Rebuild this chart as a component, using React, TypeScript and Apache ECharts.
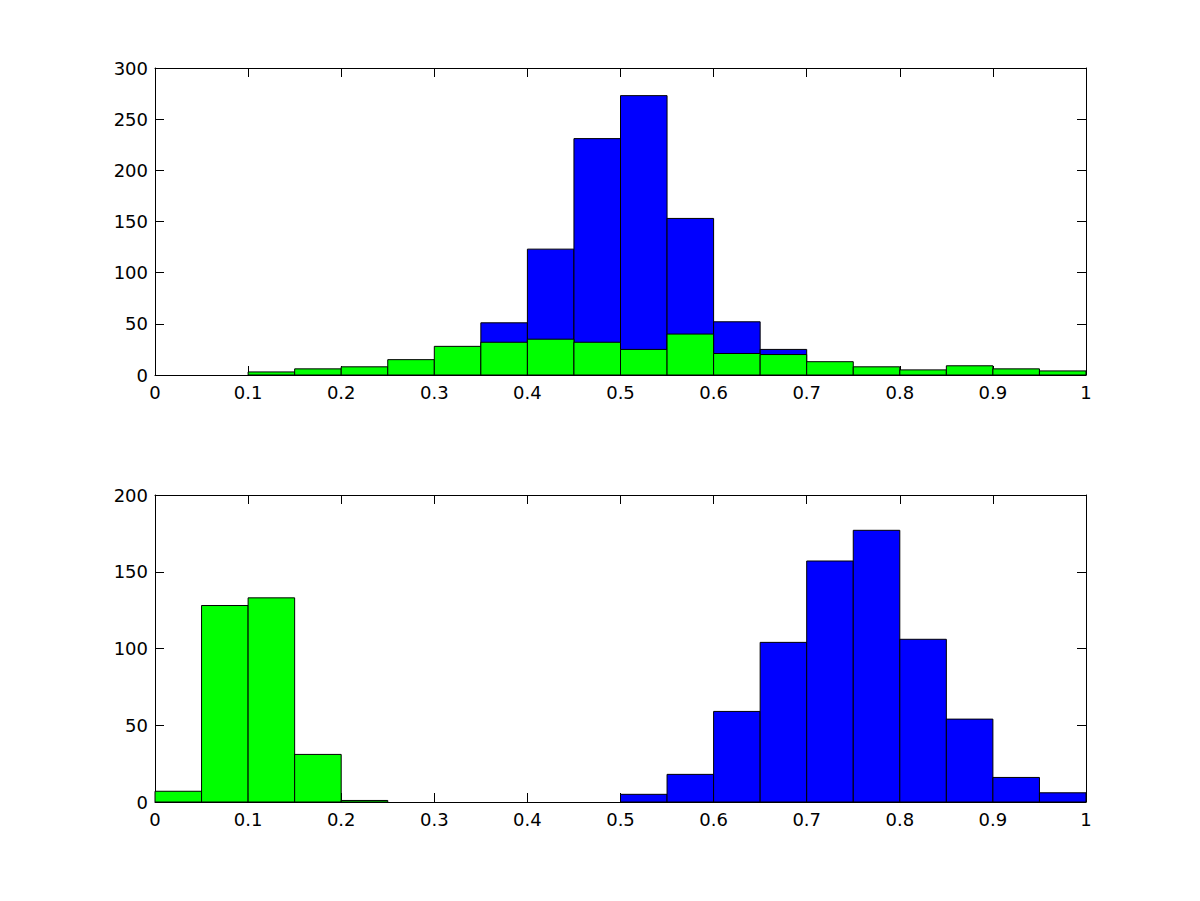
import React, { useEffect, useRef } from "react";
import * as echarts from "echarts";

const binStarts = [0, 0.05, 0.1, 0.15, 0.2, 0.25, 0.3, 0.35, 0.4, 0.45, 0.5, 0.55, 0.6, 0.65, 0.7, 0.75, 0.8, 0.85, 0.9, 0.95];
const binWidth = 0.05;

const topBlue = [0, 0, 0, 0, 0, 0, 0, 51, 123, 231, 273, 153, 52, 25, 0, 0, 0, 0, 0, 0];
const topGreen = [0, 0, 3, 6, 8, 15, 28, 32, 35, 32, 25, 40, 21, 20, 13, 8, 5, 9, 6, 4];

const bottomGreen = [7, 128, 133, 31, 1, 0, 0, 0, 0, 0, 0, 0, 0, 0, 0, 0, 0, 0, 0, 0];
const bottomBlue = [0, 0, 0, 0, 0, 0, 0, 0, 0, 0, 5, 18, 59, 104, 157, 177, 106, 54, 16, 6];

const FONT = "DejaVu Sans, Liberation Sans, Arial, sans-serif";

function histSeries(values: number[], color: string, xi: number, yi: number, z: number) {
  return {
    type: "custom",
    xAxisIndex: xi,
    yAxisIndex: yi,
    z,
    encode: { x: [0, 1], y: 2 },
    data: binStarts.map((s, i) => [s, s + binWidth, values[i]]),
    renderItem: (params: any, api: any) => {
      const s = api.value(0);
      const e = api.value(1);
      const v = api.value(2);
      if (!(v > 0)) return null;
      const p0 = api.coord([s, v]);
      const p1 = api.coord([e, 0]);
      return {
        type: "rect",
        shape: { x: p0[0], y: p0[1], width: p1[0] - p0[0], height: p1[1] - p0[1] },
        style: { fill: color, stroke: "#000", lineWidth: 1 },
      };
    },
  };
}

function xAxes(gridIndex: number) {
  const base = {
    type: "value",
    gridIndex,
    min: 0,
    max: 1,
    interval: 0.1,
    splitLine: { show: false },
    axisLine: { show: true, onZero: false, lineStyle: { color: "#000", width: 1 } },
    axisTick: { show: true, inside: true, length: 9, lineStyle: { color: "#000" } },
  };
  return [
    {
      ...base,
      position: "bottom",
      axisLabel: { show: true, color: "#000", fontSize: 18, fontFamily: FONT, margin: 8 },
    },
    { ...base, position: "top", axisLabel: { show: false } },
  ];
}

function yAxes(gridIndex: number, max: number) {
  const base = {
    type: "value",
    gridIndex,
    min: 0,
    max,
    interval: 50,
    splitLine: { show: false },
    axisLine: { show: true, onZero: false, lineStyle: { color: "#000", width: 1 } },
    axisTick: { show: true, inside: true, length: 9, lineStyle: { color: "#000" } },
  };
  return [
    {
      ...base,
      position: "left",
      axisLabel: { show: true, color: "#000", fontSize: 18, fontFamily: FONT, margin: 7 },
    },
    { ...base, position: "right", axisLabel: { show: false } },
  ];
}

export default function App() {
  const ref = useRef<HTMLDivElement>(null);
  useEffect(() => {
    if (!ref.current) return;
    const chart = echarts.init(ref.current, null, { renderer: "svg" });
    chart.setOption({
      animation: false,
      backgroundColor: "#fff",
      grid: [
        { left: 155, width: 931, top: 68, height: 307 },
        { left: 155, width: 931, top: 495, height: 307 },
      ],
      xAxis: [...xAxes(0), ...xAxes(1)],
      yAxis: [...yAxes(0, 300), ...yAxes(1, 200)],
      series: [
        histSeries(topBlue, "#0000ff", 0, 0, 2),
        histSeries(topGreen, "#00ff00", 0, 0, 3),
        histSeries(bottomGreen, "#00ff00", 2, 2, 2),
        histSeries(bottomBlue, "#0000ff", 2, 2, 3),
      ],
    });
    return () => chart.dispose();
  }, []);
  return (
    <div
      ref={ref}
      style={{ position: "absolute", left: 0, top: 0, width: 1200, height: 901, background: "#fff" }}
    />
  );
}
